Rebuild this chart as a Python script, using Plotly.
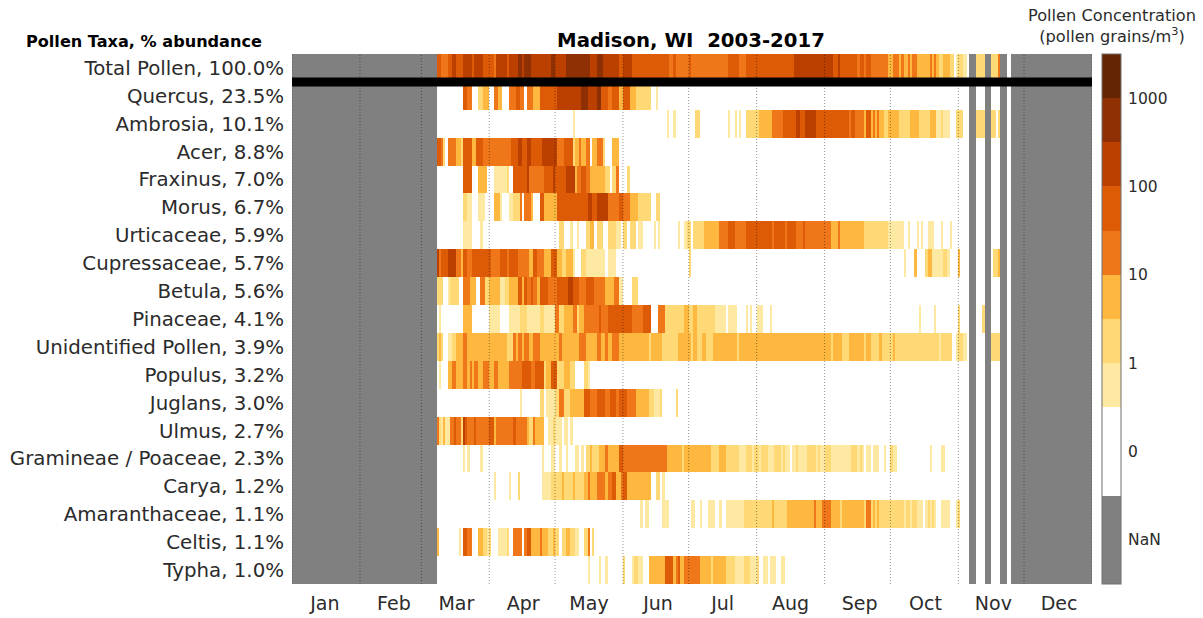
import numpy as np
import plotly.graph_objects as go

title = "Madison, WI  2003-2017"
taxa = ["Total Pollen, 100.0%", "Quercus, 23.5%", "Ambrosia, 10.1%", "Acer, 8.8%", "Fraxinus, 7.0%",
        "Morus, 6.7%", "Urticaceae, 5.9%", "Cupressaceae, 5.7%", "Betula, 5.6%", "Pinaceae, 4.1%",
        "Unidentified Pollen, 3.9%", "Populus, 3.2%", "Juglans, 3.0%", "Ulmus, 2.7%",
        "Gramineae / Poaceae, 2.3%", "Carya, 1.2%", "Amaranthaceae, 1.1%", "Celtis, 1.1%", "Typha, 1.0%"]
months = ["Jan", "Feb", "Mar", "Apr", "May", "Jun", "Jul", "Aug", "Sep", "Oct", "Nov", "Dec"]
month_label_day = [15, 46.5, 75, 105.5, 135.5, 167, 196.5, 227.5, 259, 289, 320, 350]
month_start_day = [0, 31, 59, 90, 120, 151, 181, 212, 243, 273, 304, 334, 365]

# Days with no sampling in any year: (first day, day after last)
missing_days = [(0, 66), (309, 312), (316, 319), (323, 326), (328, 365)]

# Each taxon: (day of year, concentration class from that day on)
# class 0 = zero pollen; 1..8 = the colour-bar classes, two per decade
total = [(66,5),(68,4),(71,5),(73,6),(75,5),(78,6),(82,5),(83,6),(87,5),(92,4),(93,6),(98,5),(99,6),(103,7),(105,6),(106,7),(109,6),(118,7),(120,6),(125,7),(136,6),(139,7),(142,6),(149,5),(151,6),(155,5),(172,4),(174,5),(175,4),(181,5),(182,4),(199,5),(204,4),(207,5),(229,6),(247,5),(249,6),(250,5),(258,4),(259,5),(261,4),(262,5),(264,4),(272,3),(274,4),(277,3),(278,4),(279,3),(281,4),(282,3),(283,4),(285,3),(291,4),(292,3),(293,4),(294,3),(295,2),(297,3),(300,2),(302,0),(303,1),(304,2),(306,1),(308,0),(312,2),(316,0),(319,2),(322,4),(323,0)]
quercus = [(78,5),(80,4),(82,0),(85,2),(87,3),(90,0),(92,4),(94,3),(96,0),(99,4),(102,5),(104,4),(106,0),(107,4),(110,3),(113,5),(121,6),(132,7),(135,6),(139,7),(141,5),(144,4),(146,5),(149,3),(151,5),(154,3),(157,2),(164,0),(166,1),(167,0)]
ambrosia = [(128,1),(129,0),(171,1),(172,0),(174,1),(175,0),(184,2),(186,0),(199,1),(200,0),(202,1),(203,0),(204,1),(205,0),(207,2),(213,3),(219,4),(224,5),(230,6),(232,5),(234,6),(239,5),(254,4),(255,5),(257,4),(261,3),(262,5),(264,3),(265,4),(266,3),(267,4),(268,3),(270,2),(272,3),(277,2),(282,3),(286,2),(291,3),(294,1),(296,2),(297,1),(300,0),(303,2),(306,0),(312,2),(321,0),(322,2),(323,0)]
acer = [(66,5),(68,4),(69,2),(70,0),(71,4),(75,3),(77,2),(78,5),(82,3),(84,5),(87,4),(100,5),(103,6),(105,5),(107,6),(109,5),(114,6),(121,4),(124,5),(128,2),(129,3),(131,4),(132,3),(134,4),(136,0),(137,3),(139,4),(142,2),(143,0),(146,3),(149,0)]
fraxinus = [(78,5),(82,0),(85,3),(89,0),(92,1),(98,2),(99,0),(101,5),(107,6),(108,4),(115,5),(119,6),(120,5),(125,6),(129,3),(130,4),(132,5),(134,4),(136,3),(143,2),(145,0),(146,2),(148,4),(149,0),(153,2),(154,0)]
morus = [(78,2),(80,1),(82,0),(85,1),(88,0),(92,3),(95,1),(96,0),(99,1),(101,2),(104,4),(105,0),(106,4),(109,3),(110,0),(113,5),(115,3),(121,5),(135,6),(137,5),(139,6),(144,4),(149,5),(151,4),(154,3),(158,2),(164,0),(166,2),(168,0)]
urticaceae = [(78,1),(82,0),(86,1),(87,0),(122,2),(124,0),(127,1),(128,0),(130,1),(131,0),(134,2),(136,3),(138,0),(139,2),(142,0),(144,2),(148,1),(150,0),(151,2),(153,0),(154,2),(157,0),(158,1),(160,0),(165,1),(166,0),(167,1),(168,0),(176,1),(177,0),(179,1),(180,2),(182,0),(183,2),(188,3),(195,4),(199,5),(202,4),(207,5),(219,4),(220,5),(225,4),(226,5),(230,4),(233,5),(234,4),(246,3),(249,4),(250,3),(261,2),(272,1),(279,0),(281,1),(282,0),(285,1),(286,0),(287,1),(288,0),(290,1),(293,0),(296,1),(297,0),(300,1),(301,0)]
cupressaceae = [(66,6),(67,4),(68,5),(71,6),(75,4),(77,3),(78,5),(80,4),(82,5),(91,4),(95,5),(98,4),(99,5),(103,4),(108,3),(110,5),(112,4),(115,3),(118,5),(121,3),(123,2),(125,3),(128,1),(129,0),(132,2),(134,1),(143,0),(144,1),(148,0),(181,2),(182,0),(279,1),(280,0),(284,3),(285,0),(289,2),(290,3),(292,1),(297,2),(299,1),(300,0),(304,3),(305,0),(320,2),(322,3),(323,0)]
betula = [(66,2),(69,0),(71,1),(72,2),(76,0),(78,4),(81,3),(84,0),(86,4),(88,2),(90,3),(95,1),(97,2),(99,3),(103,5),(105,3),(106,5),(107,4),(109,5),(110,4),(112,3),(113,5),(117,4),(121,5),(126,6),(128,5),(131,4),(134,5),(138,4),(143,3),(147,4),(149,1),(151,0),(155,2),(158,0)]
pinaceae = [(67,1),(68,0),(78,3),(82,0),(90,1),(95,0),(99,1),(104,2),(107,1),(113,2),(115,1),(120,4),(122,2),(124,3),(128,4),(130,2),(131,3),(133,4),(140,5),(141,4),(144,5),(155,4),(160,5),(164,0),(167,4),(170,2),(179,3),(181,2),(183,3),(185,2),(193,1),(198,0),(199,1),(203,0),(207,1),(208,0),(209,1),(210,0),(212,1),(215,0),(218,1),(219,0),(286,1),(287,0),(293,1),(294,0),(304,2),(305,0),(315,2),(316,0)]
unidentified = [(66,2),(67,3),(68,2),(69,0),(71,1),(73,2),(75,3),(78,4),(80,3),(98,2),(101,4),(102,3),(103,4),(105,3),(106,4),(108,3),(110,4),(113,3),(122,4),(123,3),(131,4),(134,3),(139,4),(141,3),(143,4),(144,3),(146,4),(149,3),(163,2),(164,3),(169,2),(176,3),(182,2),(183,3),(185,2),(187,3),(189,2),(192,3),(203,2),(204,3),(246,2),(247,3),(251,2),(254,3),(261,2),(262,3),(264,2),(268,3),(269,2),(274,3),(275,2),(295,1),(296,2),(301,0),(303,1),(304,2),(306,1),(308,0),(318,2),(323,0)]
populus = [(67,1),(68,0),(71,3),(73,4),(75,3),(78,4),(80,3),(81,4),(82,3),(83,4),(85,3),(87,4),(90,3),(92,4),(94,3),(99,4),(105,5),(109,4),(111,5),(115,2),(116,3),(118,5),(121,2),(124,3),(127,2),(129,0),(133,2),(135,1),(136,0)]
juglans = [(104,1),(105,0),(113,2),(115,0),(116,1),(120,2),(122,4),(124,2),(127,3),(133,5),(136,4),(139,5),(143,4),(145,5),(148,4),(149,5),(153,4),(157,3),(163,2),(165,1),(168,2),(169,0),(175,2),(176,0)]
ulmus = [(66,4),(67,2),(68,1),(69,3),(70,1),(72,4),(74,5),(75,4),(77,2),(78,6),(79,5),(80,4),(83,5),(84,4),(90,5),(92,3),(93,4),(101,5),(102,4),(107,3),(108,2),(110,4),(111,3),(115,0),(117,1),(119,2),(120,1),(123,0),(124,1),(126,0),(127,1),(128,0)]
gramineae = [(78,1),(79,0),(80,1),(81,0),(86,1),(87,0),(114,1),(115,0),(118,1),(120,0),(122,1),(123,0),(125,1),(126,0),(129,1),(131,0),(132,1),(133,0),(134,2),(136,3),(137,2),(140,3),(143,4),(144,3),(149,5),(151,4),(171,3),(178,2),(179,3),(191,2),(195,3),(198,2),(204,1),(207,2),(210,1),(211,2),(213,1),(214,2),(217,1),(220,2),(223,1),(224,2),(225,1),(227,0),(228,1),(230,2),(231,1),(235,2),(239,1),(240,2),(241,1),(243,2),(246,1),(255,2),(258,1),(259,2),(260,1),(261,0),(262,1),(264,0),(265,1),(268,0),(270,1),(271,0),(273,2),(274,1),(276,0),(291,1),(292,0),(296,1),(298,0)]
carya = [(92,1),(93,0),(99,1),(100,0),(103,2),(104,0),(114,1),(118,2),(123,3),(124,2),(128,3),(129,2),(133,3),(135,4),(136,3),(139,4),(143,3),(144,4),(146,5),(148,3),(150,4),(151,5),(153,3),(164,0),(166,2),(168,0),(169,1),(170,0)]
amaranthaceae = [(159,1),(160,0),(161,1),(163,0),(169,1),(172,0),(182,1),(184,0),(186,1),(187,0),(190,1),(193,0),(195,1),(196,0),(198,1),(206,2),(219,3),(220,2),(226,3),(238,4),(239,3),(242,4),(246,3),(250,2),(251,3),(261,2),(262,4),(264,2),(265,3),(266,2),(267,3),(268,2),(279,1),(280,2),(282,1),(283,2),(285,1),(288,0),(289,1),(290,2),(291,1),(292,2),(293,1),(294,0),(296,1),(300,0),(303,1),(304,2),(305,0)]
celtis = [(66,3),(67,0),(76,1),(77,0),(78,5),(80,4),(82,0),(85,3),(87,2),(89,1),(90,2),(91,0),(94,1),(98,2),(99,0),(101,4),(105,0),(106,4),(107,5),(109,3),(113,4),(114,3),(117,2),(119,3),(120,2),(122,0),(123,2),(125,3),(127,2),(129,1),(131,0),(133,2),(135,4),(136,0),(137,2),(138,0)]
typha = [(135,1),(136,0),(140,1),(141,0),(143,1),(144,0),(151,2),(152,0),(155,1),(156,2),(158,1),(160,0),(163,3),(170,5),(174,3),(175,4),(176,5),(177,3),(179,4),(186,3),(191,2),(192,3),(198,2),(202,1),(206,2),(209,1),(212,2),(213,0),(215,1),(217,0),(218,1),(221,0),(223,1),(225,0)]

rows = [total, quercus, ambrosia, acer, fraxinus, morus, urticaceae, cupressaceae, betula, pinaceae,
        unidentified, populus, juglans, ulmus, gramineae, carya, amaranthaceae, celtis, typha]

class_colors = ["#808080", "#ffffff", "#FEE9A3", "#FED976", "#FEB840", "#F0761A", "#DD5B06", "#BB4000", "#8E3003", "#652505"]
band_edges = [0, 2, 4, 5, 6, 7, 8, 9, 10, 11, 12]          # NaN and 0 bands are twice as tall
cbar_ticks = [1, 3, 5, 7, 9, 11]
cbar_labels = ["NaN", "0", "1", "10", "100", "1000"]


def expand(runs):
    out = np.zeros(365, dtype=float)
    for i, (day, cls) in enumerate(runs):
        end = runs[i + 1][0] if i + 1 < len(runs) else 365
        out[day:end] = cls
    out = np.where(out == 0, 3.0, out + 3.5)      # position of the class on the colour bar
    for a, b in missing_days:
        out[a:b] = np.nan
    return out


z = np.array([expand(r) for r in rows])
scale = []
for i, c in enumerate(class_colors):
    scale += [[band_edges[i] / 12, c], [band_edges[i + 1] / 12, c]]

TXT = "#2b2b2b"
fig = go.Figure(go.Heatmap(
    z=z, x=np.arange(365) + 0.5, y=list(range(len(taxa))),
    colorscale=scale, zmin=0, zmax=12, hoverongaps=False, xgap=0, ygap=0,
    colorbar=dict(
        x=1.0125, xanchor="left", y=0.5, yanchor="middle", len=1, thickness=19,
        xpad=0, ypad=0, outlinewidth=1, outlinecolor="#707070",
        tickmode="array", tickvals=cbar_ticks, ticktext=cbar_labels,
        ticks="outside", ticklen=4, tickcolor="rgba(0,0,0,0)", tickwidth=1,
        tickfont=dict(family="DejaVu Sans", size=15.5, color=TXT),
    ),
))

shapes = [dict(type="line", xref="x", yref="paper", x0=d, x1=d, y0=0, y1=1,
               line=dict(color="rgba(0,0,0,0.42)", width=1, dash="1px,2px"), layer="above")
          for d in month_start_day]
shapes.append(dict(type="line", xref="x", yref="y", x0=0, x1=365, y0=0.5, y1=0.5,
                   line=dict(color="black", width=9), layer="above"))
# small inside ticks at every colour-bar band edge, on the bar's right side
for t in range(1, 12):
    shapes.append(dict(type="line", xref="paper", yref="paper", x0=1.0300, x1=1.0362, y0=t / 12, y1=t / 12,
                       line=dict(color="#404040", width=1), layer="above"))

fig.update_layout(
    width=1203, height=618, autosize=False,
    margin=dict(l=292, r=111, t=54, b=34, autoexpand=False),
    paper_bgcolor="white", plot_bgcolor="#808080",
    font=dict(family="DejaVu Sans", color=TXT),
    title=dict(text="<b>%s</b>" % title, x=691 / 1203, xanchor="center", y=1 - 40 / 618, yanchor="middle",
               font=dict(family="DejaVu Sans", size=19.7, color="black")),
    shapes=shapes,
    xaxis=dict(range=[0, 365], tickmode="array", tickvals=month_label_day, ticktext=months, showgrid=False,
               zeroline=False, ticks="outside", ticklen=2, tickcolor="rgba(0,0,0,0)", automargin=False,
               tickfont=dict(size=19, color=TXT, family="DejaVu Sans")),
    yaxis=dict(range=[len(taxa) - 0.5, -0.5], tickmode="array", tickvals=list(range(len(taxa))), ticktext=taxa,
               showgrid=False, zeroline=False, ticks="outside", ticklen=3, tickcolor="rgba(0,0,0,0)",
               automargin=False, tickfont=dict(size=19.8, color=TXT, family="DejaVu Sans")),
    annotations=[
        dict(text="<b>Pollen Taxa, % abundance</b>", xref="paper", yref="paper", x=-28 / 800, y=542.5 / 530,
             xanchor="right", yanchor="middle", showarrow=False, font=dict(size=16.1, color="black")),
        dict(text="Pollen Concentration<br>(pollen grains/m<sup>3</sup>)", xref="paper", yref="paper",
             x=819.5 / 800, y=558 / 530, xanchor="center", yanchor="middle", showarrow=False,
             font=dict(size=16.2, color=TXT)),
    ],
)
fig.write_html("out.html", post_script="document.body.style.margin='0';", config={"displayModeBar": False})
